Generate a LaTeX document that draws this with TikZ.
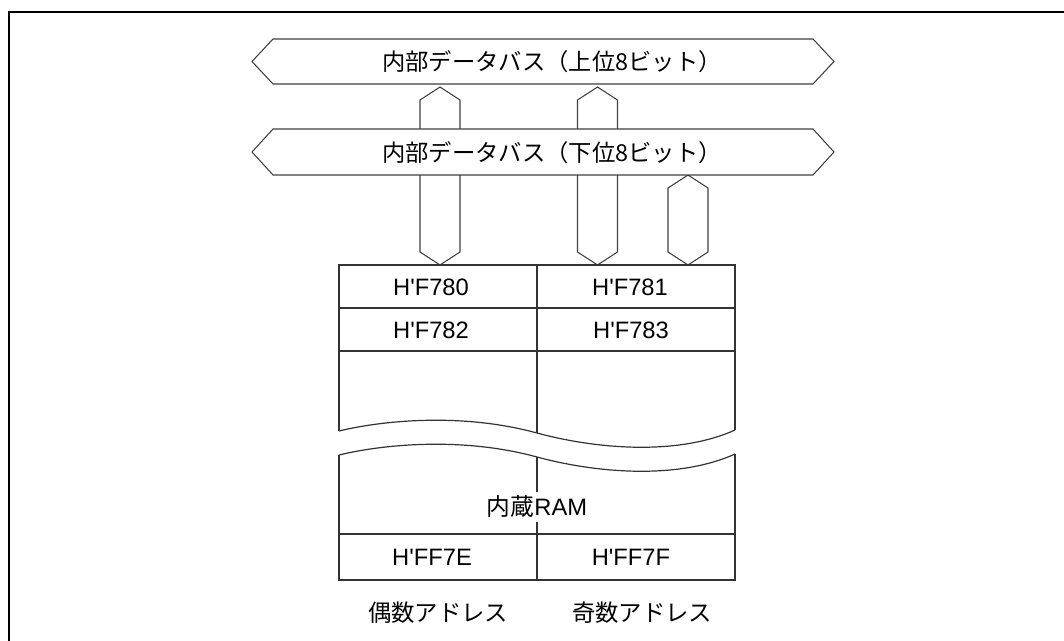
\documentclass[tikz,border=0pt]{standalone}
\usepackage{fontspec}
\setmainfont{Liberation Sans}
\newfontfamily\jp{Noto Sans CJK JP}
\newcommand{\hq}{H\textquotesingle}
\begin{document}
\begin{tikzpicture}[x=0.75pt,y=-0.75pt,
  outl/.style={draw=black!80, line width=0.9pt},
  bus/.style={draw=black!75, line width=0.8pt, fill=white},
  lbl/.style={font=\fontsize{17.8}{20}\selectfont, inner sep=0pt},
  jlbl/.style={font=\fontsize{17.5}{20}\selectfont\jp, inner sep=0pt}]
\useasboundingbox (0,0) rectangle (1064,641);
% frame
\draw[line width=1.1pt] (9,641) -- (9,12) -- (1064,12);
% vertical connectors
\draw[bus] (440,87) -- (460,100) -- (460,252) -- (440,265) -- (420,252) -- (420,100) -- cycle;
\draw[bus] (597.5,87) -- (617.5,100) -- (617.5,252) -- (597.5,265) -- (577.5,252) -- (577.5,100) -- cycle;
\draw[bus] (688,175) -- (708,188) -- (708,252) -- (688,265) -- (668,252) -- (668,188) -- cycle;
% buses
\draw[bus] (252,61.5) -- (273,39) -- (813,39) -- (834,61.5) -- (813,84) -- (273,84) -- cycle;
\node[jlbl] (ub) at (552,62) {内部データバス（上位8ビット）};
\draw[bus] (252,152) -- (273,129) -- (813,129) -- (834,152) -- (813,175) -- (273,175) -- cycle;
\node[jlbl] (lb) at (552,153) {内部データバス（下位8ビット）};
% RAM block
\draw[outl] (339,431) -- (339,265) -- (735,265) -- (735,430);
\draw[outl] (339,431) .. controls (380,421) and (460,412) .. (537,433) .. controls (600,450) and (680,455) .. (735,430);
\draw[outl] (339,455) .. controls (380,445) and (460,436) .. (537,457) .. controls (600,474) and (680,479) .. (735,454);
\draw[outl] (339,455) -- (339,580) -- (735,580) -- (735,454);
\draw[outl] (339,308) -- (735,308);
\draw[outl] (339,351) -- (735,351);
\draw[outl] (339,534) -- (735,534);
\node[lbl] (ram) at (537,507) {{\jp 内蔵}RAM};
\draw[outl] (537,265) -- (537,433);
\draw[outl] (537,457) -- (537,492);
\draw[outl] (537,522) -- (537,580);
% cell labels
\node[lbl] (a0) at (431,287) {\hq F780};
\node[lbl] (a1) at (630,287) {\hq F781};
\node[lbl] (a2) at (431,330) {\hq F782};
\node[lbl] (a3) at (631,330) {\hq F783};
\node[lbl] (a4) at (432,557) {\hq FF7E};
\node[lbl] (a5) at (631,557) {\hq FF7F};
\node[jlbl] (even) at (438,613) {偶数アドレス};
\node[jlbl] (odd) at (642,613) {奇数アドレス};
\end{tikzpicture}
\end{document}
